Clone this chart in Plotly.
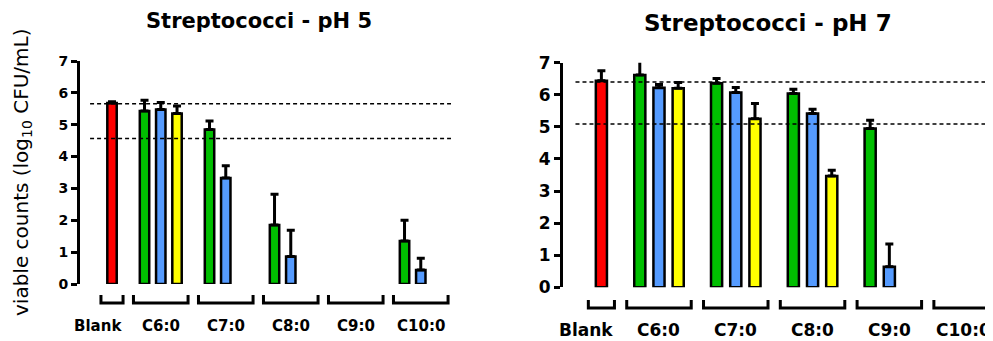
import plotly.graph_objects as go

W, H = 993, 341
# the page body adds an 8px offset; positions below are given in screen pixels
OFF = 8

# ---------------- data ----------------
groups = ["Blank", "C6:0", "C7:0", "C8:0", "C9:0", "C10:0"]

# pH 5 panel (None = no bar)
ph5_blank = [5.68, None, None, None, None, None]
ph5_blank_err = [0.04, None, None, None, None, None]
ph5_green = [None, 5.43, 4.85, 1.85, None, 1.35]
ph5_green_err = [None, 0.34, 0.27, 0.97, None, 0.65]
ph5_blue = [None, 5.48, 3.33, 0.86, None, 0.44]
ph5_blue_err = [None, 0.22, 0.38, 0.83, None, 0.37]
ph5_yellow = [None, 5.35, None, None, None, None]
ph5_yellow_err = [None, 0.24, None, None, None, None]
ph5_ref_lines = [5.66, 4.57]

# pH 7 panel
ph7_blank = [6.44, None, None, None, None, None]
ph7_blank_err = [0.31, None, None, None, None, None]
ph7_green = [None, 6.62, 6.36, 6.04, 4.95, None]
ph7_green_err = [None, 0.45, 0.15, 0.13, 0.26, None]
ph7_blue = [None, 6.22, 6.07, 5.42, 0.64, None]
ph7_blue_err = [None, 0.10, 0.16, 0.13, 0.71, None]
ph7_yellow = [None, 6.20, 5.25, 3.47, None, None]
ph7_yellow_err = [None, 0.18, 0.48, 0.18, None, None]
ph7_ref_lines = [6.40, 5.09]

y_ticks = [0, 1, 2, 3, 4, 5, 6, 7]
titles = ["Streptococci - pH 5", "Streptococci - pH 7"]
y_title = "viable counts (log<sub>10</sub> CFU/mL)"

# ---------------- layout helpers ----------------
RED, GREEN, BLUE, YELLOW = "#FF0000", "#00BF00", "#559BFF", "#FFFF00"
FONT = "DejaVu Sans"

# group centres on a numeric axis: Blank, then groups of three bar slots
group_pos = [0] + [3 + 4 * i for i in range(len(groups) - 1)]
group_n = [1, 3, 3, 3, 3, 3]
offsets = {"blank": 0, "green": -1, "blue": 0, "yellow": 1}


def px(x):
    return (x - OFF) / W


def py(y):
    return 1 - (y - OFF) / H


panels = [
    dict(
        xa="x", ya="y", xr=[-1.97, 20.86], dom_x=[80, 451], dom_y=[61, 284],
        series=[("blank", ph5_blank, ph5_blank_err, RED),
                ("green", ph5_green, ph5_green_err, GREEN),
                ("blue", ph5_blue, ph5_blue_err, BLUE),
                ("yellow", ph5_yellow, ph5_yellow_err, YELLOW)],
        refs=ph5_ref_lines, tickfs=14, labfs=15, br=(295, 303), laby=326,
        title_xy=(259, 21), title_fs=21,
    ),
    dict(
        xa="x2", ya="y2", xr=[-2.0, 20.4], dom_x=[563, 993], dom_y=[62.7, 287.3],
        series=[("blank", ph7_blank, ph7_blank_err, RED),
                ("green", ph7_green, ph7_green_err, GREEN),
                ("blue", ph7_blue, ph7_blue_err, BLUE),
                ("yellow", ph7_yellow, ph7_yellow_err, YELLOW)],
        refs=ph7_ref_lines, tickfs=17, labfs=17, br=(300, 308), laby=330,
        title_xy=(768, 23), title_fs=23,
    ),
]

fig = go.Figure()
shapes, annotations = [], []

for pi, p in enumerate(panels):
    for key, vals, errs, col in p["series"]:
        xs, ys, es = [], [], []
        for gi, v in enumerate(vals):
            if v is None:
                continue
            xs.append(group_pos[gi] + offsets[key])
            ys.append(v)
            es.append(errs[gi])
        fig.add_trace(go.Bar(
            x=xs, y=ys, width=0.58, xaxis=p["xa"], yaxis=p["ya"],
            marker=dict(color=col, line=dict(color="black", width=2.5)),
            error_y=dict(type="data", symmetric=False, array=es,
                         arrayminus=[0] * len(es), color="black",
                         thickness=3, width=4),
            showlegend=False, hoverinfo="skip",
        ))
    # dashed reference lines
    for r in p["refs"]:
        shapes.append(dict(type="line", xref=p["xa"], yref=p["ya"],
                           x0=-1.35, x1=p["xr"][1], y0=r, y1=r, layer="above",
                           line=dict(color="black", width=1.5, dash="4px,3px")))
    # group brackets and labels
    yt, yb = py(p["br"][0]), py(p["br"][1])
    for gi, g in enumerate(groups):
        half = (group_n[gi] - 1) / 2 + 0.68
        x0, x1 = group_pos[gi] - half, group_pos[gi] + half
        x1 = min(x1, p["xr"][1] - 0.08)
        shapes.append(dict(type="path", xref=p["xa"], yref="paper",
                           path=f"M {x0},{yt} L {x0},{yb} L {x1},{yb} L {x1},{yt}",
                           line=dict(color="black", width=3)))
        if gi == 0:
            lx, anchor = x1 + 0.05, "right"
        elif pi == 1 and gi == len(groups) - 1:
            lx, anchor = p["xr"][1], "right"
        else:
            lx, anchor = group_pos[gi], "center"
        annotations.append(dict(text=f"<b>{g}</b>", xref=p["xa"], yref="paper",
                                x=lx, y=py(p["laby"]), xanchor=anchor,
                                yanchor="middle", showarrow=False,
                                font=dict(family=FONT, size=p["labfs"], color="black")))
    # title
    annotations.append(dict(text=f"<b>{titles[pi]}</b>", xref="paper", yref="paper",
                            x=px(p["title_xy"][0]), y=py(p["title_xy"][1]),
                            xanchor="center", yanchor="middle", showarrow=False,
                            font=dict(family=FONT, size=p["title_fs"], color="black")))

annotations.append(dict(text=y_title, xref="paper", yref="paper", x=0, y=py(172),
                        textangle=-90, xanchor="left", yanchor="middle", showarrow=False,
                        borderpad=0,
                        font=dict(family=FONT, size=20, color="black")))


def xaxis(p):
    return dict(domain=[px(p["dom_x"][0]), px(p["dom_x"][1])], range=p["xr"],
                showticklabels=False, showline=False, showgrid=False,
                zeroline=False, ticks="", fixedrange=True, automargin=False)


def yaxis(p, anchor):
    return dict(domain=[py(p["dom_y"][1]), py(p["dom_y"][0])], range=[0, 7],
                tickvals=y_ticks, ticktext=[f"<b>{t}</b>" for t in y_ticks],
                showline=True, linecolor="black", linewidth=3,
                ticks="outside", ticklen=6, tickwidth=3, tickcolor="black",
                showgrid=False, zeroline=False, anchor=anchor, automargin=False,
                tickfont=dict(family=FONT, size=p["tickfs"], color="black"))


fig.update_layout(
    width=W, height=H,
    margin=dict(l=0, r=0, t=0, b=0, pad=0, autoexpand=False),
    paper_bgcolor="white", plot_bgcolor="white", barmode="overlay",
    xaxis=xaxis(panels[0]), yaxis=yaxis(panels[0], "x"),
    xaxis2=dict(xaxis(panels[1]), anchor="y2"), yaxis2=yaxis(panels[1], "x2"),
    shapes=shapes, annotations=annotations, showlegend=False,
)

fig.write_html("out.html")
